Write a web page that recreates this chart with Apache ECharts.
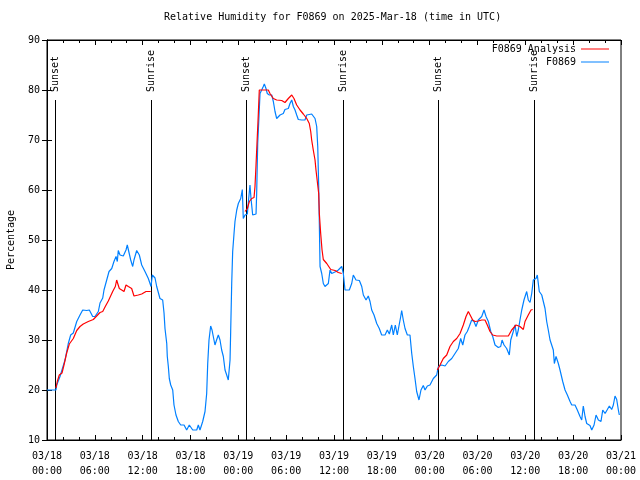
<!DOCTYPE html>
<html>
<head>
<meta charset="utf-8">
<script src="https://cdn.jsdelivr.net/npm/echarts@6/dist/echarts.min.js"></script>
<style>
html,body{margin:0;padding:0;background:#fff;}
#chart{width:640px;height:480px;}
</style>
</head>
<body>
<div id="chart"></div>
<script>
// Time in hours since 2025-03-18 00:00 UTC
const titleText = 'Relative Humidity for F0869 on 2025-Mar-18 (time in UTC)';
const xTickLabels = ['03/18\n00:00','03/18\n06:00','03/18\n12:00','03/18\n18:00','03/19\n00:00','03/19\n06:00','03/19\n12:00','03/19\n18:00','03/20\n00:00','03/20\n06:00','03/20\n12:00','03/20\n18:00','03/21\n00:00'];

// Observed (F0869)
const obsHours = [0.00,1.13,1.22,1.63,1.88,2.26,2.67,2.97,3.30,3.73,4.14,4.48,4.98,5.31,5.73,6.02,6.44,6.65,6.99,7.15,7.49,7.78,8.12,8.40,8.66,8.82,8.94,9.16,9.57,9.91,10.07,10.25,10.50,10.75,10.91,11.25,11.58,11.88,12.29,12.71,13.05,13.21,13.55,13.76,14.17,14.51,14.68,14.80,15.02,15.09,15.22,15.34,15.52,15.77,15.93,16.18,16.47,16.77,17.19,17.52,17.85,18.28,18.78,18.98,19.19,19.53,19.82,20.03,20.16,20.32,20.53,20.70,20.86,21.07,21.29,21.49,21.70,21.91,22.12,22.33,22.54,22.74,22.96,23.04,23.17,23.29,23.46,23.58,23.80,24.00,24.30,24.50,24.62,24.84,25.13,25.30,25.46,25.59,25.80,26.22,26.30,26.43,26.59,26.72,26.93,27.13,27.26,27.47,27.63,27.89,28.19,28.39,28.60,28.81,29.01,29.23,29.64,29.85,30.27,30.48,30.70,30.90,31.11,31.32,31.52,31.95,32.36,32.58,33.20,33.62,33.83,33.96,34.08,34.16,34.25,34.46,34.66,34.87,35.29,35.50,35.71,35.91,36.25,36.54,36.97,37.17,37.38,37.92,38.22,38.42,38.76,39.18,39.48,39.68,40.02,40.30,40.52,40.73,41.02,41.36,41.68,41.98,42.40,42.69,42.94,43.24,43.44,43.69,43.94,44.19,44.37,44.49,44.69,44.91,45.20,45.53,45.75,45.95,46.16,46.37,46.66,46.91,47.20,47.42,47.71,48.04,48.46,48.88,49.09,49.51,49.93,50.34,50.77,51.18,51.59,51.89,52.15,52.43,52.72,52.97,53.27,53.56,53.81,54.10,54.53,54.82,55.07,55.36,55.66,55.91,56.20,56.61,56.91,57.08,57.33,57.66,57.99,58.17,58.49,58.71,58.92,59.12,59.33,59.55,59.83,60.17,60.37,60.59,60.80,61.00,61.34,61.50,61.75,62.06,62.26,62.47,62.68,62.88,63.10,63.31,63.51,63.64,63.85,64.14,64.35,64.69,64.98,65.27,65.61,65.82,66.23,66.52,66.86,67.07,67.27,67.49,67.70,68.11,68.33,68.62,68.87,69.16,69.49,69.71,70.00,70.29,70.54,70.83,71.04,71.25,71.46,71.67,71.79];
const obsRH = [20,20,21,22.7,23,26,29.3,31,31.4,33.7,35,36,35.9,36,34.7,34.7,35.7,37.4,38.4,40,42,43.7,44.3,45.7,46.7,45.7,47.9,47,46.8,48,49,48.7,46,44.7,46,47.9,47,45,43.7,42.3,40.7,43,42.4,40.7,38.3,38,35.4,32.3,29.3,26.7,24.7,22.3,21,20,17,15,13.7,13,13,12,13,12,12,13,12,13.7,15.7,19.3,25.3,30,32.8,32,30.7,29,30.1,31,30,28,26.7,24,23,22,26,31.7,41.3,47.7,51.3,53.7,56,57.3,58.3,60.1,54.3,55,55.2,58.3,61,58.3,55,55.2,59.3,69.3,74.7,79.3,80,80.7,81.2,80.3,79.3,79,79,77.7,75.7,74.3,74,75,75.3,76.1,76.3,77.3,78,76.7,76,75,74.1,74,74,75,75.2,74.3,72.7,68.7,60.7,53.3,44.7,43.3,41.3,40.7,41.3,44,43.3,43,43.7,44,44.7,43.3,40,40,41.3,43,42,41.9,40.7,39,38,38.8,37.7,36,35,33.3,32.3,31,31,32,31.2,33,31,33,31,31,34.7,35.9,34,32.3,31,31,27.3,24.7,22.3,19.7,18,20,20.9,20,20.8,21,22.3,23,24.7,25,24.8,25.7,26.3,27.3,28.3,30.3,29,31,31.7,32.7,34,33.7,32.7,34,34.7,36,34.7,33.7,31.7,30.7,29,28.5,28.7,30,29,28.3,27,30,31.7,33,30.7,32,34,36,38,39.7,38,37.5,39.3,42,42.3,43,39.7,39,38.7,36.3,33.7,32,30,29.7,28,25.3,26.7,25.3,24,21.7,20,19,17.7,17,17,16,14.7,14,16.8,14.7,13.3,12.9,12,13,15,14,13.7,16,15.3,16.1,16.8,16.1,17,18.8,18.1,16,15];

// Analysis (F0869 Analysis) - night-time only, null = gap
const anaHours = [1.13,1.29,1.54,1.88,2.13,2.47,2.80,3.30,3.73,4.14,4.55,5.18,5.81,6.23,6.65,6.99,7.31,7.69,7.90,8.24,8.57,8.74,8.87,9.07,9.37,9.66,9.91,10.20,10.62,10.91,11.45,11.88,12.42,13.01,
  18.00,
  24.84,25.13,25.38,25.68,25.97,26.09,26.22,26.34,26.51,26.63,27.76,27.97,28.39,28.81,29.44,29.85,30.27,30.70,30.98,31.32,31.74,32.15,32.58,32.90,33.08,33.20,33.40,33.62,33.74,33.91,34.08,34.16,34.33,34.50,34.66,35.09,35.59,36.13,36.54,36.97,
  43.00,
  48.96,49.30,49.71,50.14,50.55,50.97,51.39,51.81,52.22,52.56,52.85,53.06,53.40,53.69,54.10,54.53,54.94,55.23,55.57,55.91,56.41,57.24,57.87,58.29,58.83,59.33,59.75,59.96,60.37,60.71,60.92];
const anaRH = [20.4,21.7,23,23.4,25,27.4,29.2,30.3,31.9,32.7,33.2,33.7,34.1,34.8,35.5,35.7,36.7,37.8,38.2,39.7,40.7,42,41.3,40.3,40,39.7,41,40.7,40.3,38.8,39,39.2,39.7,39.7,
  null,
  55.7,56.3,57.7,58.3,58.5,60.7,65,69.3,75.3,80,80,79.3,78.3,78,77.9,77.5,78.3,79,78.3,77,76,75.2,74.3,73.3,71.7,70,68,66,64,63.7,59.3,55.3,51.3,48,46.1,45.3,44.1,43.9,43.5,43.3,
  null,
  24,25,26.3,27,28.7,29.7,30.3,31.3,33,34.7,35.7,35.3,34,33.7,33.8,34,34,33,31.7,31,30.8,30.8,30.8,32,33,32.7,32.1,33.7,35,36,36.1];

// Sun events
const sunHours = [1.00, 13.05, 24.96, 37.13, 49.05, 61.09];
const sunLabels = ['Sunset','Sunrise','Sunset','Sunrise','Sunset','Sunrise'];
const sunLineTop = 78;

const FONT = 'DejaVu Sans Mono';
const chart = echarts.init(document.getElementById('chart'), null, {renderer:'canvas'});

const obsData = obsHours.map((h,i)=>[h, obsRH[i]]);
const anaData = anaHours.map((h,i)=>[h, anaRH[i] === null ? '-' : anaRH[i]]);
const sunData = sunHours.map((h,i)=>[h, sunLineTop, i]);

const axisCommon = {
  min: 0, max: 72, interval: 6,
  axisLine: {show:true, lineStyle:{color:'#000', width:1}},
  axisTick: {show:true, inside:true, length:5, lineStyle:{color:'#000'}},
  minorTick: {show:true, splitNumber:3, length:3, lineStyle:{color:'#000'}},
  splitLine: {show:false}, minorSplitLine:{show:false}
};

chart.setOption({
  animation:false,
  backgroundColor:'#fff',
  title:{text:titleText, left:164, top:12, padding:0, textStyle:{fontFamily:FONT, fontSize:10, fontWeight:'normal', color:'#000'}},
  grid:{left:47, right:19, top:40, bottom:40, containLabel:false, outerBoundsMode:'none', show:true, borderColor:'#000', borderWidth:1, backgroundColor:'transparent'},
  legend:[
    {data:['F0869 Analysis'], right:31, top:44, orient:'vertical', align:'right', padding:0, itemWidth:28, itemHeight:1, icon:'rect', textStyle:{fontFamily:FONT, fontSize:10, color:'#000'}},
    {data:['F0869'], right:31, top:57, orient:'vertical', align:'right', padding:0, itemWidth:28, itemHeight:1, icon:'rect', textStyle:{fontFamily:FONT, fontSize:10, color:'#000'}}
  ],
  xAxis:[
    Object.assign({type:'value', position:'bottom', axisLabel:{show:true, margin:9, fontFamily:FONT, fontSize:10, color:'#000', lineHeight:15, formatter:(v)=>xTickLabels[Math.round(v/6)]}}, axisCommon),
    Object.assign({type:'value', position:'top', axisLabel:{show:false}}, axisCommon)
  ],
  yAxis:[
    {type:'value', min:10, max:90, interval:10, position:'left', name:'Percentage', nameLocation:'middle', nameGap:31, nameRotate:90,
     nameTextStyle:{fontFamily:FONT, fontSize:10, color:'#000'},
     axisLine:{show:true, lineStyle:{color:'#000'}}, axisTick:{show:true, inside:true, length:5, lineStyle:{color:'#000'}},
     axisLabel:{fontFamily:FONT, fontSize:10, color:'#000', margin:7}, splitLine:{show:false}},
    {type:'value', min:10, max:90, interval:10, position:'right',
     axisLine:{show:true, lineStyle:{color:'#000'}}, axisTick:{show:true, inside:true, length:5, lineStyle:{color:'#000'}},
     axisLabel:{show:false}, splitLine:{show:false}}
  ],
  series:[
    {type:'custom', name:'sun', silent:true, xAxisIndex:0, yAxisIndex:0, data:sunData, z:1,
     renderItem:function(params, api){
       const top = api.coord([api.value(0), api.value(1)]);
       const bot = api.coord([api.value(0), 10]);
       const idx = api.value(2);
       const px = Math.round(top[0]) + 0.5;
       return {type:'group', children:[
         {type:'line', shape:{x1:px, y1:Math.round(top[1]), x2:px, y2:Math.round(bot[1])}, style:{stroke:'#000', lineWidth:1}},
         {type:'text', x:px, y:top[1]-8, rotation:Math.PI/2,
          style:{text:sunLabels[idx], fill:'#000', font:'10px '+FONT, textAlign:'left', textVerticalAlign:'middle', align:'left', verticalAlign:'middle'}}
       ]};
     }},
    {type:'line', name:'F0869 Analysis', data:anaData, showSymbol:false, connectNulls:false, lineStyle:{color:'#ff0000', width:1.2}, itemStyle:{color:'#ff0000'}, z:3},
    {type:'line', name:'F0869', data:obsData, showSymbol:false, lineStyle:{color:'#0080ff', width:1.2}, itemStyle:{color:'#0080ff'}, z:2}
  ]
});
</script>
</body>
</html>
